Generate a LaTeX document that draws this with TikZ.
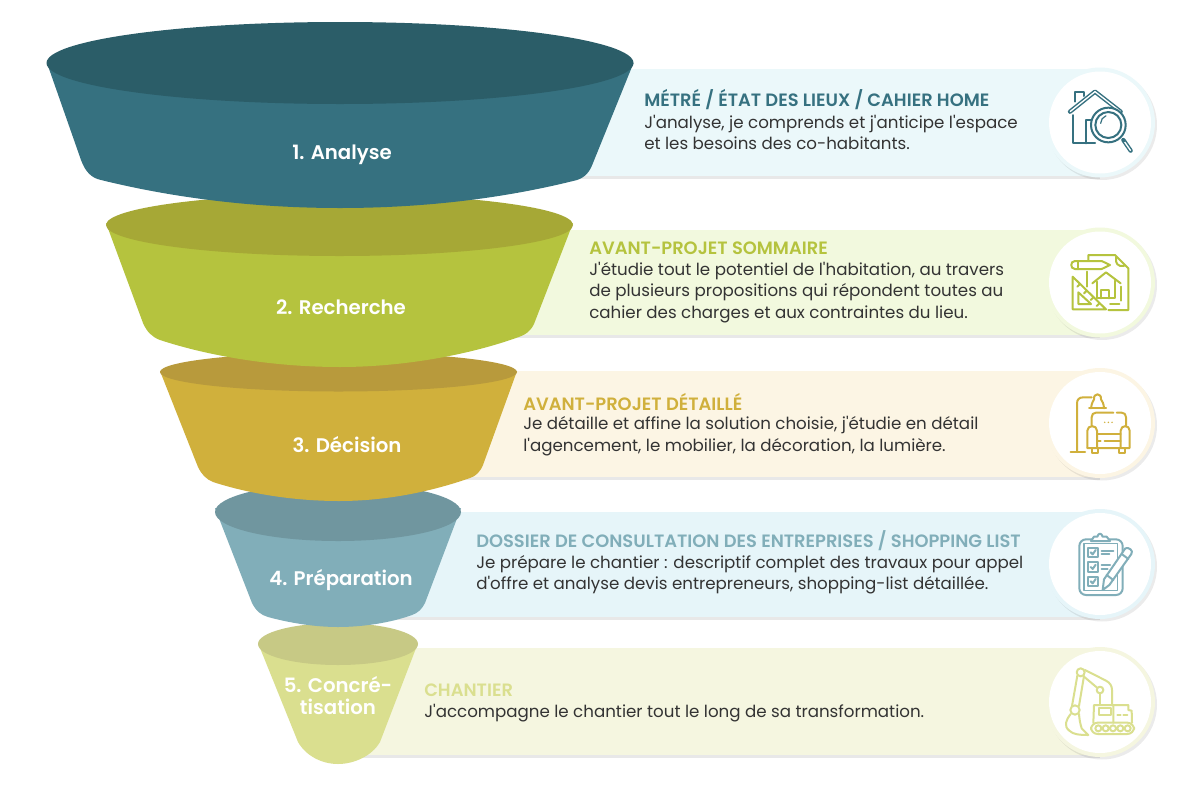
\documentclass[tikz,border=0pt]{standalone}
\usepackage{fontspec}
\newfontfamily\bodyfont{Poppins}
\newfontfamily\headfont{Poppins SemiBold}
\definecolor{cA}{HTML}{367180}\definecolor{tA}{HTML}{2B5D68}\definecolor{pA}{HTML}{EBF8FA}
\definecolor{cB}{HTML}{B5C33E}\definecolor{tB}{HTML}{A6A836}\definecolor{pB}{HTML}{F2F9DE}
\definecolor{cC}{HTML}{D0B03C}\definecolor{tC}{HTML}{B89A3C}\definecolor{pC}{HTML}{FCF5E4}
\definecolor{cD}{HTML}{81AEB9}\definecolor{tD}{HTML}{70969F}\definecolor{pD}{HTML}{E6F5F9}
\definecolor{cE}{HTML}{DADF8F}\definecolor{tE}{HTML}{C7C985}\definecolor{pE}{HTML}{F5F6E0}
\definecolor{ink}{HTML}{333333}
\tikzset{
  stagelabel/.style={text=white,font=\headfont\fontsize{14.8}{16.5}\selectfont,align=center,inner sep=0pt},
  headtext/.style={font=\headfont\fontsize{13.4}{15}\selectfont,anchor=west,inner sep=0pt},
  bodytext/.style={text=ink,font=\bodyfont\fontsize{12.5}{16}\selectfont,anchor=west,align=left,inner sep=0pt},
  icon/.style={line width=1.5pt,line cap=round,line join=round,draw=#1},
}
\newcommand{\panelrow}[6]{% x0, ytop, ybot, cy, fill
  \fill[black!9] (#1,#3) rectangle (1100,#3+2.5);
  \fill[#5] (#1,#2) rectangle (1100,#3);
  \fill[black,opacity=.08] (1102,#4+2.5) circle (55);
  \fill[#5] (1100,#4) circle (55);
  \fill[white] (1100,#4) circle (51);
}
\begin{document}
\begin{tikzpicture}[x=.75pt,y=-.75pt]
\useasboundingbox (0,0) rectangle (1200,800);
\fill[white] (0,0) rectangle (1200,800);
% panels
\panelrow{500}{69}{176}{122.5}{pA}{}
\panelrow{420}{230}{335}{282.5}{pB}{}
\panelrow{400}{371}{477}{423}{pC}{}
\panelrow{340}{512}{617}{564}{pD}{}
\panelrow{340}{648}{755}{702}{pE}{}
% funnel, bottom stage first
\fill[cE] (258,643) -- (298,742) .. controls (306,756) and (322,764) .. (338,764) .. controls (354,764) and (372,756) .. (380,742) -- (418,643) -- cycle;
\fill[tE] (338,644) ellipse (80 and 21);
\fill[cD] (215,508) -- (252,603) .. controls (256,611) and (261,615) .. (268,617) .. controls (290,623) and (315,627) .. (338,627) .. controls (362,627) and (390,623) .. (412,615) .. controls (418,613) and (422,609) .. (425,603) -- (461,508) -- cycle;
\fill[tD] (338,512) ellipse (123 and 29);
\fill[cC] (160,371) -- (198,467) .. controls (202,475) and (206,479) .. (213,482) .. controls (250,494) and (295,501) .. (339,501) .. controls (385,501) and (430,492) .. (470,478) .. controls (476,476) and (480,472) .. (483,465) -- (517,371) -- cycle;
\fill[tC] (338.5,372) ellipse (178.5 and 19.5);
\fill[cB] (106,223) -- (143,323) .. controls (147,332) and (152,337) .. (160,340) .. controls (215,358) and (280,367) .. (340,367) .. controls (400,367) and (465,356) .. (516,338) .. controls (525,335) and (530,332) .. (534,324) -- (573,223) -- cycle;
\fill[tB] (339.5,225) ellipse (233.5 and 31);
\fill[cA] (47,63) -- (81,160) .. controls (85,171) and (91,178) .. (101,180) .. controls (170,197) and (250,208) .. (340,208) .. controls (430,208) and (510,197) .. (577,180) .. controls (586,177) and (590,171) .. (593,163) -- (633.5,63) -- cycle;
\fill[tA] (340,63) ellipse (293.5 and 41);
% stage labels
\node[stagelabel] (s1) at (342,155) {1. Analyse};
\node[stagelabel] (s2) at (341,307) {2. Recherche};
\node[stagelabel] (s3) at (347,445) {3. Décision};
\node[stagelabel] (s4) at (341,580) {4. Préparation};
\node[stagelabel] (s5) at (338,696) {5. Concré-\\tisation};
% texts
\node[headtext,text=cA] (h1) at (644,100) {MÉTRÉ / ÉTAT DES LIEUX / CAHIER HOME};
\node[bodytext] (b1) at (644,132.5) {J'analyse, je comprends et j'anticipe l'espace\\et les besoins des co-habitants.};
\node[headtext,text=cB] (h2) at (589,248) {AVANT-PROJET SOMMAIRE};
\node[bodytext] (b2) at (589,292.5) {J'étudie tout le potentiel de l'habitation, au travers\\de plusieurs propositions qui répondent toutes au\\cahier des charges et aux contraintes du lieu.};
\node[headtext,text=cC] (h3) at (523,402) {AVANT-PROJET DÉTAILLÉ};
\node[bodytext] (b3) at (523,436) {Je détaille et affine la solution choisie, j'étudie en détail\\l'agencement, le mobilier, la décoration, la lumière.};
\node[headtext,text=cD] (h4) at (476,541) {DOSSIER DE CONSULTATION DES ENTREPRISES / SHOPPING LIST};
\node[bodytext] (b4) at (476,575) {Je prépare le chantier : descriptif complet des travaux pour appel\\d'offre et analyse devis entrepreneurs, shopping-list détaillée.};
\node[headtext,text=cE] (h5) at (424,690) {CHANTIER};
\node[bodytext] (b5) at (424,713) {J'accompagne le chantier tout le long de sa transformation.};
% icon 1
\begin{scope}[shift={(1030,60)},x=.25pt,y=-.25pt]
\draw[icon=cA] (135,125) -- (135,97) -- (162,97) -- (162,108);
\draw[icon=cA,line width=3.2pt] (120,155) -- (195,95) -- (272,155);
\draw[white,line width=1pt] (120,155) -- (195,95) -- (272,155);
\draw[icon=cA] (130,165) -- (130,250) -- (195,250);
\draw[icon=cA] (168,250) -- (168,180) -- (188,180);
\fill[white] (235,195) circle (52);
\draw[icon=cA] (235,195) circle (52);
\draw[icon=cA] (235,195) circle (39);
\draw[icon=cA,line width=.9pt] (212,190) arc (180:250:24);
\draw[icon=cA,line width=3.2pt] (280,240) -- (302,272);
\draw[white,line width=1pt] (284,246) -- (302,272);
\end{scope}
% icon 2
\begin{scope}[shift={(1030,60)},x=.25pt,y=-.25pt]
\draw[icon=cB] (175,600) -- (175,585) -- (255,585) -- (295,625) -- (295,750) -- (235,750);
\draw[icon=cB] (258,592) .. controls (256,610) and (262,620) .. (282,618);
\draw[icon=cB] (135,603) -- (215,603) -- (240,615) -- (215,627) -- (135,627) .. controls (120,627) and (120,603) .. (135,603);
\draw[icon=cB] (145,603) -- (145,627);
\draw[icon=cB] (170,635) -- (170,680);
\draw[icon=cB] (187,670) -- (228,637) -- (272,670);
\draw[icon=cB] (200,665) -- (200,715);
\draw[icon=cB] (255,662) -- (255,715) -- (205,715);
\draw[icon=cB] (212,715) -- (212,690) -- (238,690) -- (238,715);
\draw[icon=cB] (272,680) -- (272,722);
\draw[icon=cB] (240,732) -- (268,732);
\draw[icon=cB] (128,650) -- (128,748) -- (228,748) -- cycle;
\draw[icon=cB] (145,697) -- (145,732) -- (183,732) -- cycle;
\draw[icon=cB] (150,672) -- (142,680) (170,692) -- (162,700) (190,712) -- (182,720) (208,730) -- (200,738);
\end{scope}
% icon 3
\begin{scope}[shift={(1030,360)},x=.25pt,y=-.25pt]
\draw[icon=cC] (122,276) -- (165,276);
\draw[icon=cC] (141,276) -- (141,130) .. controls (141,118) and (148,112) .. (160,112) -- (185,112);
\draw[icon=cC] (177,145) -- (228,145);
\draw[icon=cC] (183,145) .. controls (185,128) and (190,122) .. (192,118) .. controls (190,98) and (215,98) .. (213,118) .. controls (218,124) and (221,132) .. (222,145);
\draw[icon=cC] (185,197) -- (185,172) .. controls (185,163) and (190,158) .. (198,158) -- (250,158);
\draw[icon=cC] (260,158) -- (275,158) .. controls (283,158) and (288,163) .. (288,172) -- (288,197);
\draw[icon=cC] (172,264) -- (172,212) .. controls (172,194) and (201,194) .. (201,212) -- (201,264);
\draw[icon=cC] (272,264) -- (272,212) .. controls (272,194) and (299,194) .. (299,212) -- (299,264) -- (172,264);
\draw[icon=cC] (201,222) -- (272,222);
\draw[icon=cC] (201,242) -- (212,242) (224,242) -- (272,242);
\draw[icon=cC] (185,264) -- (185,278) -- (203,278) -- (203,264);
\draw[icon=cC] (268,264) -- (268,278) -- (286,278) -- (286,264);
\fill[cC] (224,187) circle (2.5) (235,187) circle (2.5) (246,187) circle (2.5);
\end{scope}
% icon 4
\begin{scope}[shift={(1030,360)},x=.25pt,y=-.25pt]
\draw[icon=cD,rounded corners=5pt] (148,538) rectangle (278,705);
\draw[icon=cD,line width=1pt] (162,550) rectangle (263,692);
\fill[white] (185,542) -- (195,524) -- (228,524) -- (240,542) -- cycle;
\draw[icon=cD] (183,543) -- (240,543) -- (230,530) -- (218,530) .. controls (215,518) and (205,518) .. (202,530) -- (192,530) -- cycle;
\draw[icon=cD] (175,563) rectangle (203,590);
\draw[icon=cD] (175,607) rectangle (203,635);
\draw[icon=cD] (175,650) rectangle (203,677);
\draw[icon=cD] (182,577) -- (188,583) -- (197,570) (182,621) -- (188,627) -- (197,614) (182,664) -- (188,670) -- (197,657);
\draw[icon=cD] (215,572) -- (250,572) (215,583) -- (238,583) (215,615) -- (240,615) (215,627) -- (233,627);
\fill[white] (284,565) -- (306,580) -- (238,675) -- (218,690) -- (222,658) -- cycle;
\draw[icon=cD] (286,565) .. controls (295,560) and (312,572) .. (304,582) -- (238,675) -- (218,690) -- (222,658) -- cycle;
\draw[icon=cD] (275,582) -- (295,597) (230,645) -- (250,660);
\end{scope}
% icon 5
\begin{scope}[shift={(1030,640)},x=.25pt,y=-.25pt]
\draw[icon=cE] (142,107) -- (126,198) (162,108) -- (147,198);
\draw[icon=cE] (165,90) -- (228,122) .. controls (240,128) and (246,138) .. (246,150) -- (246,192);
\draw[icon=cE] (162,110) -- (200,142);
\draw[icon=cE] (210,160) -- (210,192);
\draw[icon=cE] (152,97) circle (12);
\draw[icon=cE] (210,150) circle (10);
\draw[icon=cE] (135,210) circle (14);
\draw[icon=cE] (122,222) .. controls (108,240) and (100,258) .. (118,272) .. controls (130,284) and (150,285) .. (175,285) -- (155,265) .. controls (150,250) and (148,235) .. (147,222);
\draw[icon=cE] (190,248) -- (192,195) -- (250,195) -- (250,248);
\draw[icon=cE] (208,205) rectangle (243,225);
\draw[icon=cE] (250,195) -- (295,195) -- (295,210) -- (305,212) -- (306,248);
\draw[icon=cE] (262,225) -- (272,225) (280,225) -- (292,225);
\draw[icon=cE,rounded corners=5pt] (183,248) rectangle (312,282);
\draw[icon=cE] (205,265) circle (9) (227,265) circle (9) (249,265) circle (9) (271,265) circle (9) (293,265) circle (9);
\end{scope}
\end{tikzpicture}
\end{document}
